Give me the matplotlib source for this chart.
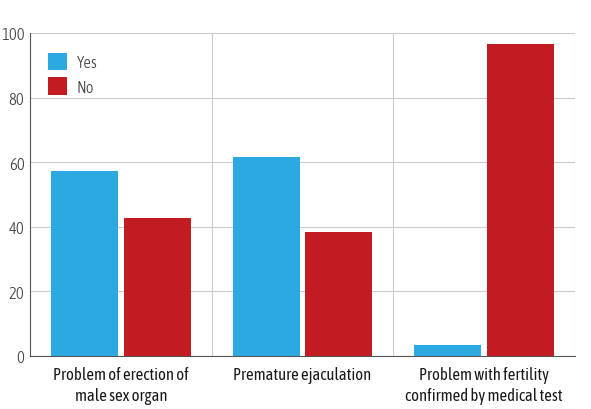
import numpy as np
import matplotlib.pyplot as plt

# schmale, humanistische Schrift (wie im Original), mit Fallback
plt.rcParams['font.family'] = ['Asap Condensed', 'Archivo Narrow', 'DejaVu Sans']

categories = ['Problem of erection of\nmale sex organ',
              'Premature ejaculation',
              'Problem with fertility\nconfirmed by medical test']
yes_values = [57.3, 61.6, 3.4]
no_values = [42.7, 38.4, 96.6]

blue = '#2DA9E1'
red = '#C01C22'

fig = plt.figure(figsize=(5.91, 4.10), dpi=100)
ax = fig.add_axes([30 / 591, 53 / 410, 545 / 591, 323 / 410])

x = np.arange(len(categories))
w = 0.367
gap = 0.033
ax.bar(x - (w + gap) / 2, yes_values, width=w, color=blue, label='Yes', zorder=3)
ax.bar(x + (w + gap) / 2, no_values, width=w, color=red, label='No', zorder=3)

ax.set_xlim(-0.5, len(categories) - 0.5)
ax.set_ylim(0, 100)
ax.set_yticks(np.arange(0, 101, 20))
ax.set_xticks(x)
ax.set_xticklabels(categories, fontsize=12, color='#1a1a1a', linespacing=1.35)
ax.tick_params(axis='y', labelsize=12, colors='#444444', length=0, pad=4)
ax.tick_params(axis='x', length=0, pad=7)
for lab in ax.get_yticklabels():
    lab.set_fontweight(300)

# Gitter: horizontal + Kategoriegrenzen
ax.grid(axis='y', color='#cccccc', lw=0.8, zorder=0)
for b in np.arange(0.5, len(categories), 1.0):
    ax.axvline(b, color='#cccccc', lw=0.8, zorder=0)

for s in ['top', 'right']:
    ax.spines[s].set_visible(False)
ax.spines['left'].set_color('#555555')
ax.spines['bottom'].set_color('#555555')

leg = ax.legend(loc='upper left', frameon=False, fontsize=12, handlelength=1.15,
                handleheight=1.25, handletextpad=0.6, labelspacing=0.35,
                bbox_to_anchor=(0.005, 0.985), labelcolor='#444444')
for t in leg.get_texts():
    t.set_fontweight(300)

fig.savefig('out.png', dpi=100)
